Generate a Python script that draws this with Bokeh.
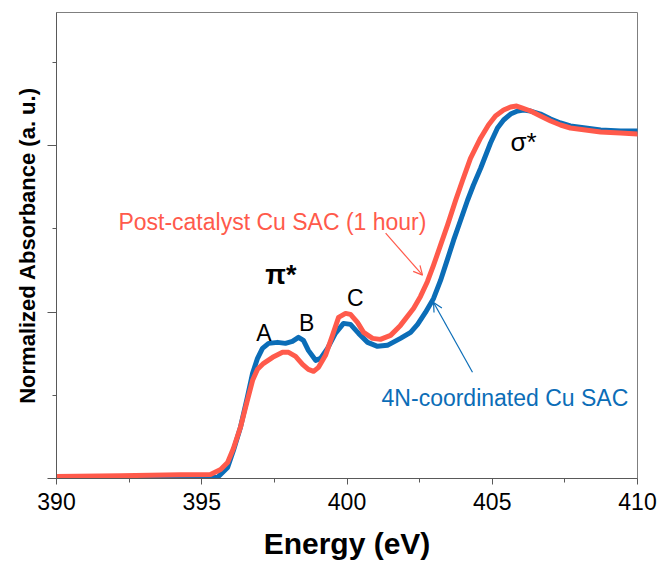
from bokeh.plotting import figure
from bokeh.models import FixedTicker, Label, Arrow, OpenHead, CustomLabelingPolicy
from bokeh.embed import file_html
from bokeh.resources import INLINE

# ---- data ----
energy_post = [390.00, 392.20, 394.27, 395.30, 395.65, 395.89, 396.09, 396.33, 396.57, 396.75,
               396.92, 397.13, 397.44, 397.78, 397.99, 398.23, 398.47, 398.67, 398.85, 399.02,
               399.26, 399.50, 399.71, 399.95, 400.12, 400.36, 400.57, 400.88, 401.15, 401.50,
               401.84, 402.29, 402.53, 402.77, 402.98, 403.22, 403.46, 403.74, 403.98, 404.25,
               404.60, 404.87, 405.11, 405.39, 405.63, 405.84, 406.04, 406.32, 406.66, 407.01,
               407.35, 407.69, 408.21, 408.73, 409.42, 410.00]
absorb_post = [0.006, 0.008, 0.011, 0.012, 0.027, 0.048, 0.090, 0.153, 0.235, 0.295,
               0.328, 0.346, 0.364, 0.379, 0.379, 0.367, 0.343, 0.328, 0.322, 0.334,
               0.370, 0.430, 0.484, 0.496, 0.493, 0.469, 0.439, 0.421, 0.418, 0.430,
               0.460, 0.511, 0.547, 0.592, 0.641, 0.701, 0.761, 0.836, 0.896, 0.962,
               1.023, 1.062, 1.089, 1.107, 1.116, 1.119, 1.113, 1.104, 1.089, 1.074,
               1.062, 1.053, 1.047, 1.041, 1.038, 1.035]

energy_4n = [390.00, 393.24, 395.54, 395.89, 396.09, 396.33, 396.57, 396.75, 396.92, 397.09,
             397.30, 397.61, 397.88, 398.12, 398.33, 398.50, 398.67, 398.92, 399.09, 399.33,
             399.60, 399.88, 400.12, 400.40, 400.71, 401.05, 401.39, 401.84, 402.19, 402.43,
             402.70, 402.98, 403.22, 403.46, 403.67, 403.91, 404.15, 404.35, 404.60, 404.94,
             405.18, 405.39, 405.63, 405.87, 406.08, 406.32, 406.66, 407.01, 407.35, 407.69,
             408.21, 408.73, 409.42, 410.00]
absorb_4n = [0.003, 0.003, 0.003, 0.033, 0.084, 0.153, 0.244, 0.316, 0.361, 0.391,
             0.406, 0.409, 0.406, 0.412, 0.424, 0.415, 0.385, 0.355, 0.361, 0.391,
             0.436, 0.466, 0.463, 0.436, 0.409, 0.397, 0.400, 0.421, 0.439, 0.463,
             0.499, 0.541, 0.595, 0.659, 0.716, 0.776, 0.836, 0.881, 0.932, 1.008,
             1.053, 1.077, 1.095, 1.104, 1.107, 1.104, 1.095, 1.080, 1.068, 1.059,
             1.053, 1.047, 1.044, 1.044]

x_ticks = [390, 395, 400, 405, 410]
x_minor = [392.5, 397.5, 402.5, 407.5]
y_ticks = [0.0, 0.5, 1.0]
y_minor = [0.25, 0.75, 1.25]

BLUE = "#0B6DB7"
RED = "#FF5A4B"
FONT = "Liberation Sans"

p = figure(frame_width=581, frame_height=466, x_range=(390, 410), y_range=(0, 1.4),
           output_backend="svg", toolbar_location=None,
           min_border_left=56, min_border_right=23, min_border_top=12, min_border_bottom=88)
p.background_fill_color = "white"
p.border_fill_color = "white"
p.grid.visible = False
p.outline_line_color = "#7f7f7f"
p.outline_line_width = 1

p.line(energy_4n, absorb_4n, line_color=BLUE, line_width=5, line_join="round", line_cap="round")
p.line(energy_post, absorb_post, line_color=RED, line_width=5, line_join="round", line_cap="round")

# axes
xa = p.xaxis[0]
xa.ticker = FixedTicker(ticks=x_ticks, minor_ticks=x_minor)
xa.axis_label = "Energy (eV)"
xa.axis_label_text_font = FONT
xa.axis_label_text_font_style = "bold"
xa.axis_label_text_font_size = "30px"
xa.axis_label_text_color = "black"
xa.axis_label_standoff = 14
xa.major_label_text_font = FONT
xa.major_label_text_font_size = "23px"
xa.major_label_text_color = "black"
xa.major_label_standoff = 8
xa.axis_line_color = "#595959"
xa.major_tick_line_color = "#595959"
xa.minor_tick_line_color = "#595959"
xa.major_tick_in = 0
xa.major_tick_out = 6
xa.minor_tick_in = 0
xa.minor_tick_out = 4

ya = p.yaxis[0]
ya.ticker = FixedTicker(ticks=y_ticks, minor_ticks=y_minor)
ya.axis_label = "Normalized Absorbance (a. u.)"
ya.axis_label_text_font = FONT
ya.axis_label_text_font_style = "bold"
ya.axis_label_text_font_size = "22px"
ya.axis_label_text_color = "black"
ya.axis_label_standoff = 8
ya.major_label_text_font_size = "0px"
ya.major_label_standoff = 0
ya.major_label_policy = CustomLabelingPolicy(
    code="for (const i of Array.from(indices)) { indices.unset(i) } return indices")
ya.axis_line_color = "#595959"
ya.major_tick_line_color = "#595959"
ya.minor_tick_line_color = "#595959"
ya.major_tick_in = 0
ya.major_tick_out = 9
ya.minor_tick_in = 0
ya.minor_tick_out = 4

# annotations
labels = [
    ("Post-catalyst Cu SAC (1 hour)", 392.13, 0.770, RED, "23px", "normal", "left"),
    ("4N-coordinated Cu SAC", 401.19, 0.241, BLUE, "23px", "normal", "left"),
    ("π*", 397.19, 0.611, "black", "27px", "bold", "left"),
    ("A", 397.14, 0.436, "black", "23px", "normal", "center"),
    ("B", 398.61, 0.466, "black", "23px", "normal", "center"),
    ("C", 400.29, 0.541, "black", "23px", "normal", "center"),
    ("σ*", 405.63, 1.011, "black", "26px", "normal", "left"),
]
for txt, lx, ly, col, fs, fw, al in labels:
    p.add_layout(Label(x=lx, y=ly, text=txt, text_color=col, text_font=FONT,
                       text_font_size=fs, text_font_style=fw, text_align=al,
                       text_baseline="alphabetic"))

arrows = [
    (401.33, 0.737, 402.60, 0.611, RED),
    (404.32, 0.319, 402.98, 0.529, BLUE),
]
for x0, y0, x1, y1, col in arrows:
    p.add_layout(Arrow(end=OpenHead(size=9, line_color=col, line_width=1.2),
                       x_start=x0, y_start=y0, x_end=x1, y_end=y1,
                       line_color=col, line_width=1.2))

open("out.html", "w").write(file_html(p, INLINE))
